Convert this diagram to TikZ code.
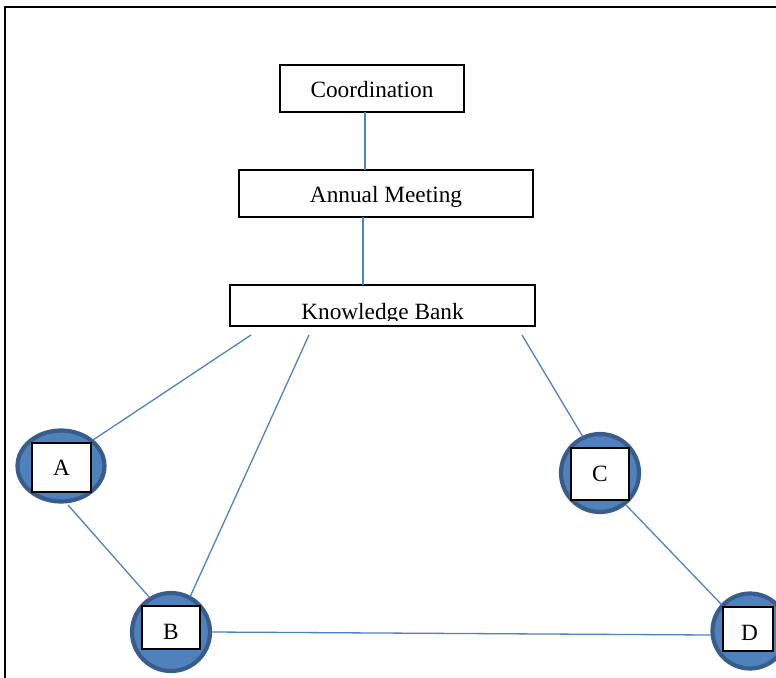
\documentclass[tikz,border=0pt]{standalone}
\usepackage{fontspec}
\setmainfont{Liberation Serif}
\usetikzlibrary{shapes.geometric}
\definecolor{lineblue}{HTML}{4F81BD}
\definecolor{fillblue}{HTML}{4F81BD}
\definecolor{ringblue}{HTML}{385D8A}
\begin{document}
\begin{tikzpicture}[x=1pt,y=-1pt,
  tbox/.style={draw=black,line width=1.6pt,fill=white,rectangle,inner sep=0pt,font=\fontsize{23.3}{27}\selectfont},
  disc/.style={draw=ringblue,line width=4.2pt,fill=fillblue,inner sep=0pt},
  link/.style={draw=lineblue,line width=1.3pt}]
\useasboundingbox (0,0) rectangle (776,677);
% frame
\draw[line width=2pt] (5,700) -- (5,7) -- (790,7);
% top boxes
\node[tbox,minimum width=184pt,minimum height=47pt,text height=17pt,text depth=0pt] (coord) at (372,88.5) {Coordination};
\node[tbox,minimum width=294pt,minimum height=47pt,text height=17pt,text depth=0pt] (annual) at (386,193.5) {Annual Meeting};
\node[tbox,minimum width=305pt,minimum height=41pt] (kb) at (382.5,305.5) {};
\begin{scope}
\clip (232,287) rectangle (533,320.5);
\node[font=\fontsize{23.3}{27}\selectfont,anchor=base,inner sep=0pt] (kbtext) at (382.5,319) {Knowledge Bank};
\end{scope}
% discs
\node[disc,ellipse,minimum width=87pt,minimum height=71pt] (cA) at (61,466) {};
\node[disc,circle,minimum size=78pt] (cB) at (171,632) {};
\node[disc,circle,minimum size=78pt] (cC) at (600,473) {};
\node[disc,circle,minimum size=75pt] (cD) at (750,631) {};
% inner boxes
\node[tbox,minimum width=59pt,minimum height=49pt] (bA) at (61.5,467.5) {A};
\node[tbox,minimum width=58pt,minimum height=43pt,text height=23pt,text depth=0pt] (bB) at (171,627.5) {B};
\node[tbox,minimum width=58pt,minimum height=52pt] (bC) at (600,474) {C};
\node[tbox,minimum width=50pt,minimum height=44pt,text height=22pt,text depth=0pt] (bD) at (748,629) {\hspace*{3pt}D};
% connector end points
\coordinate (p1) at (365,112);
\coordinate (p2) at (365,170);
\coordinate (p3) at (363,217);
\coordinate (p4) at (363,285);
\coordinate (kA) at (251,335);
\coordinate (eA) at (93,440);
\coordinate (kB) at (309,335);
\coordinate (eB) at (190,597);
\coordinate (kC) at (522,335);
\coordinate (eC) at (583,437);
\coordinate (aB1) at (68,505);
\coordinate (aB2) at (150,598);
\coordinate (bD1) at (212,632);
\coordinate (bD2) at (711,635);
\coordinate (cD1) at (626,505);
\coordinate (cD2) at (722,605);
\path[link] (p1) -- (p2);
\path[link] (p3) -- (p4);
\path[link] (kA) -- (eA);
\path[link] (kB) -- (eB);
\path[link] (kC) -- (eC);
\path[link] (aB1) -- (aB2);
\path[link] (bD1) -- (bD2);
\path[link] (cD1) -- (cD2);
\end{tikzpicture}
\end{document}
